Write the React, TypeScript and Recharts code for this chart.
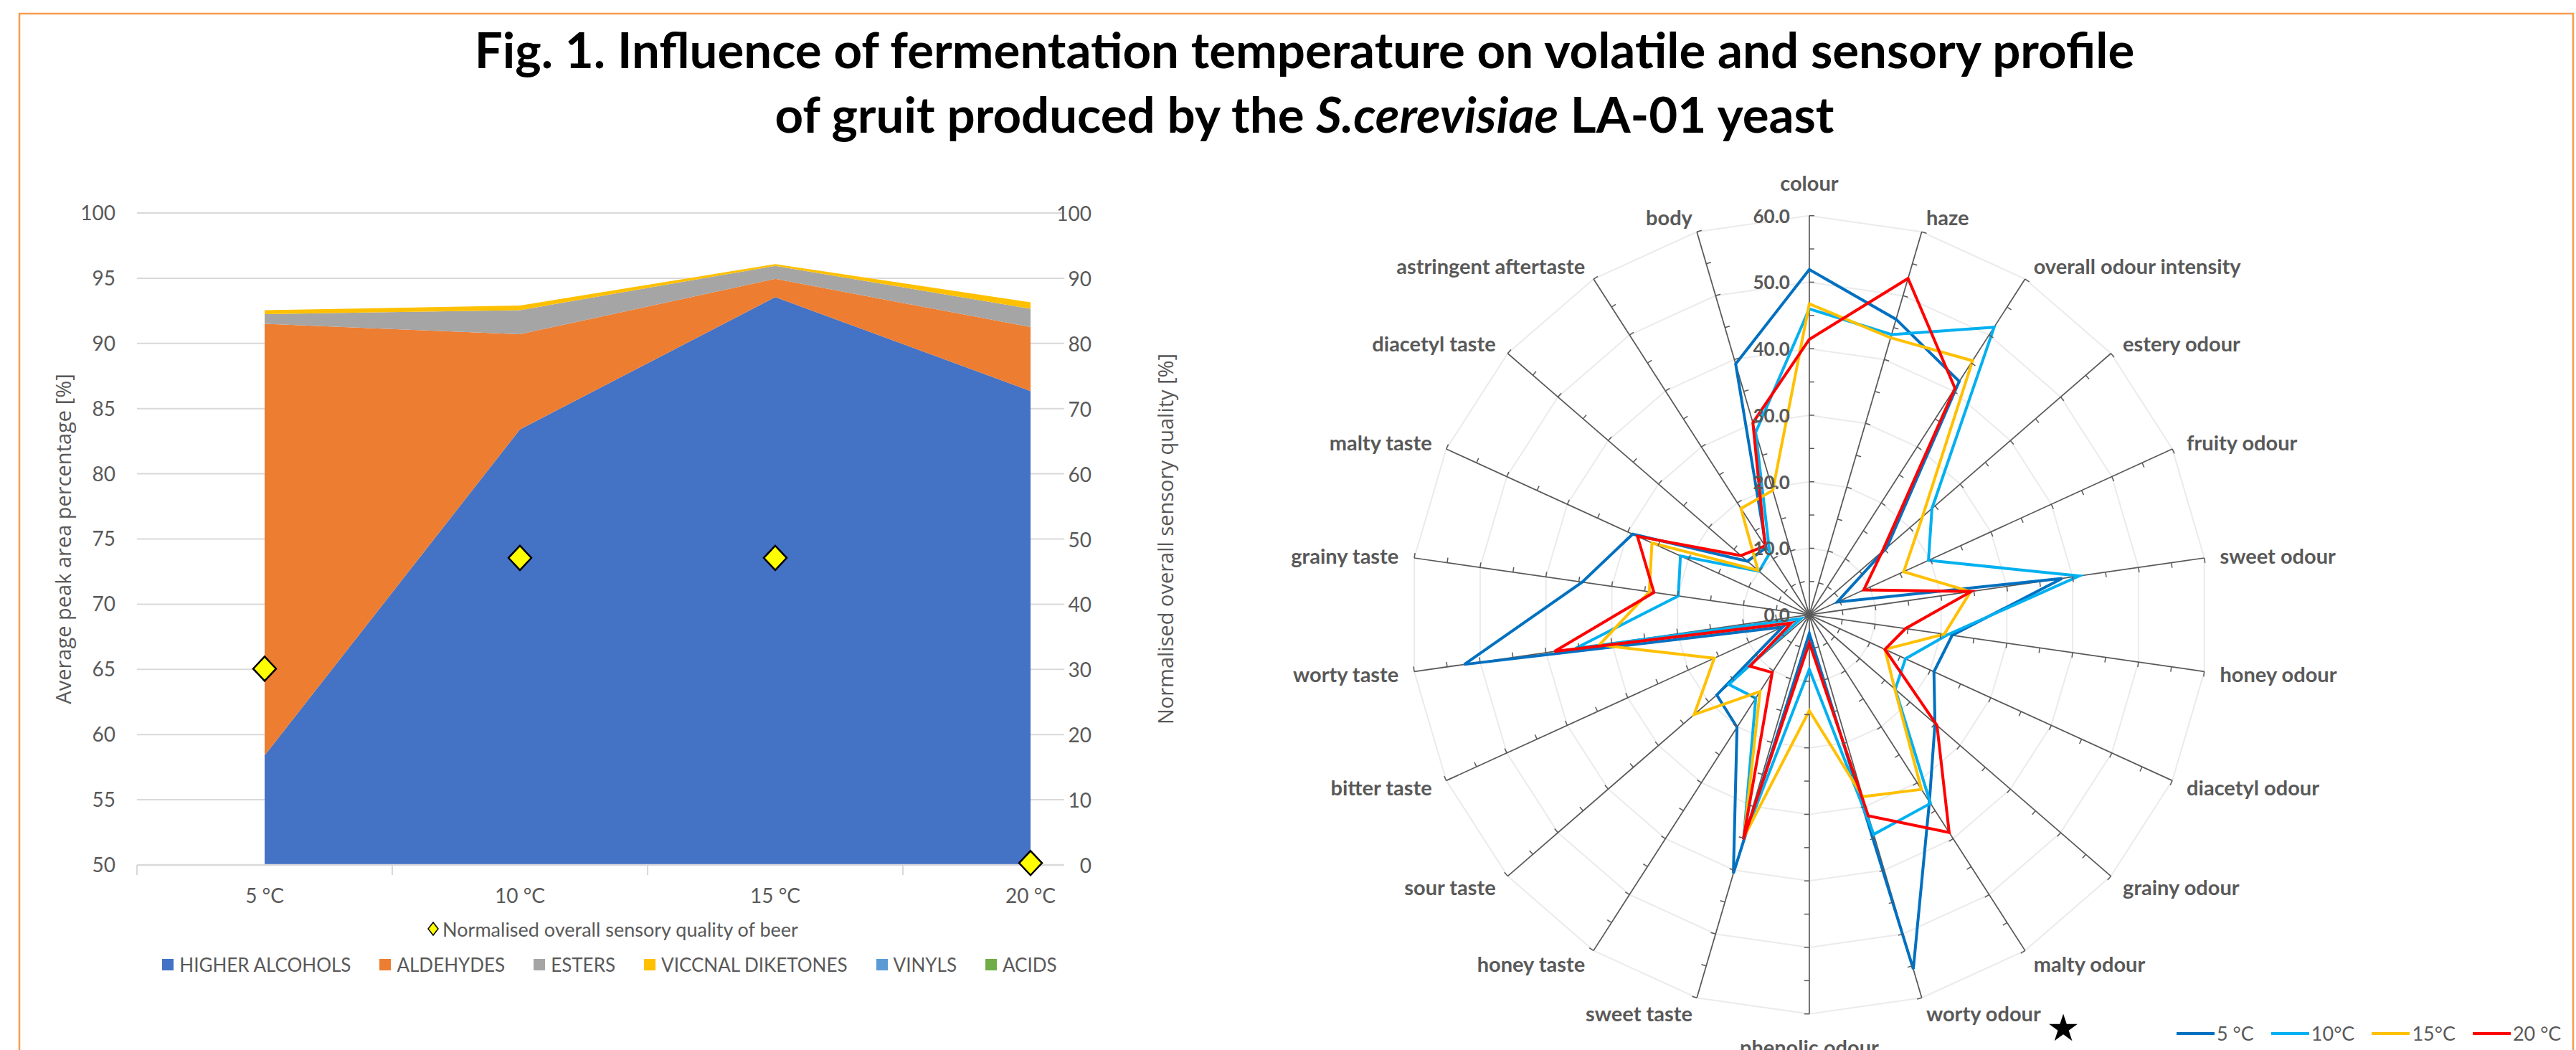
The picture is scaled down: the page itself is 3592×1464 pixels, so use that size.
import React from "react";
import {
  ComposedChart,
  Area,
  Scatter,
  XAxis,
  YAxis,
  CartesianGrid,
  Legend,
  RadarChart,
  Radar,
  PolarGrid,
  PolarAngleAxis,
  PolarRadiusAxis,
} from "recharts";

// ---- volatile profile (left chart) ----
const temperatures = ["5 °C", "10 °C", "15 °C", "20 °C"];
const higherAlcohols = [58.4, 83.4, 93.55, 86.35];
const aldehydes = [33.1, 7.3, 1.4, 4.9];
const esters = [0.75, 1.85, 1.0, 1.4];
const vicinalDiketones = [0.3, 0.35, 0.13, 0.5];
const vinyls = [0, 0, 0, 0];
const acids = [0, 0, 0, 0];
const sensoryQuality = [30.1, 47.1, 47.1, 0.3];
const peakAreaTicks = [50, 55, 60, 65, 70, 75, 80, 85, 90, 95, 100];
const qualityTicks = [0, 10, 20, 30, 40, 50, 60, 70, 80, 90, 100];

const groupNames = ["HIGHER ALCOHOLS", "ALDEHYDES", "ESTERS", "VICCNAL DIKETONES", "VINYLS", "ACIDS"];
const groupColors = ["#4472C4", "#ED7D31", "#A5A5A5", "#FFC000", "#5B9BD5", "#70AD47"];
const groupKeys = ["alcohols", "aldehydes", "esters", "diketones", "vinyls", "acids"];
const qualityName = "Normalised overall sensory quality of beer";

// ---- sensory profile (right chart) ----
const attributes = [
  "colour",
  "haze",
  "overall odour intensity",
  "estery odour",
  "fruity odour",
  "sweet odour",
  "honey odour",
  "diacetyl odour",
  "grainy odour",
  "malty odour",
  "worty odour",
  "phenolic odour",
  "sweet taste",
  "honey taste",
  "sour taste",
  "bitter taste",
  "worty taste",
  "grainy taste",
  "malty taste",
  "diacetyl taste",
  "astringent aftertaste",
  "body",
];
const sensory5 = [51.9, 46.3, 41.7, 15.4, 4.6, 38.4, 21.7, 20.6, 25.0, 33.4, 55.5, 2.8, 40.5, 20.1, 18.4, 4.4, 52.4, 34.5, 29.2, 12.3, 12.0, 39.3];
const sensory10 = [46.0, 43.9, 51.4, 24.4, 19.7, 41.0, 21.0, 15.9, 17.1, 33.7, 34.4, 8.2, 35.0, 14.9, 16.0, 1.4, 35.5, 19.9, 21.3, 10.0, 11.0, 28.6];
const sensory15 = [46.75, 43.4, 45.4, 22.5, 15.6, 24.5, 20.5, 12.5, 17.0, 31.2, 28.5, 14.4, 34.8, 13.7, 22.9, 15.7, 31.9, 24.3, 26.0, 10.2, 19.0, 19.5];
const sensory20 = [41.4, 52.7, 40.5, 14.5, 9.0, 24.6, 14.6, 12.5, 25.4, 38.9, 31.5, 4.2, 35.2, 10.3, 11.8, 3.0, 38.7, 23.6, 28.4, 13.6, 12.3, 30.1];
const sensoryTicks = [0, 10, 20, 30, 40, 50, 60];
const spokeTicks = [5, 10, 15, 20, 25, 30, 35, 40, 45, 50, 55, 60];

const runNames = ["5 °C", "10°C", "15°C", "20 °C"];
const runKeys = ["t5", "t10", "t15", "t20"];
const runColors = ["#0070C0", "#00B0F0", "#FFC000", "#FF0000"];

const CALIBRI = 'Lato, "Liberation Sans", sans-serif';
const GREY = "#595959";

const areaData = temperatures.map((t, i) => ({
  temp: t,
  alcohols: higherAlcohols[i],
  aldehydes: aldehydes[i],
  esters: esters[i],
  diketones: vicinalDiketones[i],
  vinyls: vinyls[i],
  acids: acids[i],
  quality: sensoryQuality[i],
}));

const radarData = attributes.map((a, i) => ({
  attr: a,
  t5: sensory5[i],
  t10: sensory10[i],
  t15: sensory15[i],
  t20: sensory20[i],
}));

// half of the category step, used to put x tick marks between categories
const HALF_STEP = 178;

const Diamond = (props: any) => {
  const { cx, cy } = props;
  if (cx == null || cy == null) return null;
  return (
    <polygon
      points={`${cx},${cy - 17} ${cx + 16},${cy} ${cx},${cy + 17} ${cx - 16},${cy}`}
      fill="#FFFF00"
      stroke="#000"
      strokeWidth={2.5}
    />
  );
};

const TempTick = (props: any) => {
  const { x, y, payload } = props;
  return (
    <g>
      <line x1={x - HALF_STEP} y1={y - 8} x2={x - HALF_STEP} y2={y + 6} stroke="#D9D9D9" strokeWidth={2} />
      <text x={x} y={y + 34} textAnchor="middle" dominantBaseline="central" fill={GREY} fontSize={28} fontFamily={CALIBRI}>
        {payload.value}
      </text>
    </g>
  );
};

const QualityTick = (props: any) => {
  const { x, y, payload } = props;
  return (
    <text x={x + 30} y={y} textAnchor="end" dominantBaseline="central" fill={GREY} fontSize={28} fontFamily={CALIBRI}>
      {payload.value}
    </text>
  );
};

const AxisTitle = (props: any) => {
  const { viewBox, value, dx } = props;
  if (!viewBox) return null;
  const x = viewBox.x + dx;
  const y = viewBox.y + viewBox.height / 2;
  return (
    <text
      x={x}
      y={y}
      transform={`rotate(-90, ${x}, ${y})`}
      textAnchor="middle"
      dominantBaseline="central"
      fill={GREY}
      fontSize={29}
      fontFamily='"Open Sans", sans-serif'
    >
      {value}
    </text>
  );
};

const CompositionLegend = () => (
  <div style={{ width: 1700, fontFamily: CALIBRI, color: GREY, whiteSpace: "nowrap" }}>
    <div style={{ height: 50, display: "flex", alignItems: "center", justifyContent: "center", paddingLeft: 8, fontSize: 27 }}>
      <svg width={18} height={22} style={{ marginRight: 4 }}>
        <polygon points="9,2 16,11 9,20 2,11" fill="#FFFF00" stroke="#000" strokeWidth={1.5} />
      </svg>
      <span>{qualityName}</span>
    </div>
    <div style={{ height: 49, display: "flex", alignItems: "center", justifyContent: "center", gap: 40, fontSize: 26 }}>
      {groupNames.map((n, i) => (
        <div key={n} style={{ display: "flex", alignItems: "center" }}>
          <span style={{ display: "inline-block", width: 16, height: 16, background: groupColors[i], marginRight: 8 }} />
          <span>{n}</span>
        </div>
      ))}
    </div>
  </div>
);

function CompositionChart() {
  return (
    <ComposedChart
      width={1700}
      height={1464}
      data={areaData}
      margin={{ top: 297, right: 116, bottom: 198, left: 91 }}
    >
      <CartesianGrid yAxisId="left" vertical={false} stroke="#D9D9D9" strokeWidth={2} />
      <XAxis
        dataKey="temp"
        padding={{ left: 178, right: 47 }}
        height={60}
        interval={0}
        tickLine={false}
        axisLine={{ stroke: "#D9D9D9", strokeWidth: 2.5 }}
        tick={<TempTick />}
      />
      <YAxis
        yAxisId="left"
        domain={[50, 100]}
        ticks={peakAreaTicks}
        allowDataOverflow
        width={100}
        axisLine={false}
        tickLine={false}
        tickMargin={24}
        tick={{ fill: GREY, fontSize: 28, fontFamily: CALIBRI }}
        label={<AxisTitle value="Average peak area percentage [%]" dx={-4} />}
      />
      <YAxis
        yAxisId="right"
        orientation="right"
        domain={[0, 100]}
        ticks={qualityTicks}
        width={100}
        axisLine={false}
        tickLine={false}
        tick={<QualityTick />}
        label={<AxisTitle value="Normalised overall sensory quality [%]" dx={140} />}
      />
      {groupKeys.map((k, i) => (
        <Area
          key={k}
          yAxisId="left"
          type="linear"
          dataKey={k}
          name={groupNames[i]}
          stackId="volatiles"
          fill={groupColors[i]}
          fillOpacity={1}
          stroke="none"
          isAnimationActive={false}
        />
      ))}
      <Scatter
        yAxisId="right"
        dataKey="quality"
        name={qualityName}
        shape={<Diamond />}
        isAnimationActive={false}
      />
      <Legend
        verticalAlign="middle"
        align="center"
        layout="horizontal"
        wrapperStyle={{ left: 0, top: 1270, width: 1700 }}
        content={() => <CompositionLegend />}
      />
    </ComposedChart>
  );
}

// ---- radar helpers ----
const RADAR_CX = 822.9;
const RADAR_CY = 857.2;
const RADAR_R = 556.5;
const RADAR_MAX = 60;

const AttributeTick = (props: any) => {
  const { payload } = props;
  const cx = typeof props.cx === "number" ? props.cx : RADAR_CX;
  const cy = typeof props.cy === "number" ? props.cy : RADAR_CY;
  const a = (payload.coordinate * Math.PI) / 180;
  const ca = Math.cos(a);
  const sa = Math.sin(a);
  const at = (r: number) => [cx + r * ca, cy - r * sa];
  const vertical = Math.abs(ca) < 0.01;
  const [lx, ly] = at(RADAR_R + (vertical ? 46 : 22));
  const anchor = vertical ? "middle" : ca > 0 ? "start" : "end";
  return (
    <g>
      {spokeTicks.map((v) => {
        const [px, py] = at((v / RADAR_MAX) * RADAR_R);
        return <line key={v} x1={px} y1={py} x2={px + 7 * sa} y2={py + 7 * ca} stroke={GREY} strokeWidth={1.5} />;
      })}
      <text x={lx} y={ly} textAnchor={anchor} dominantBaseline="central" fill={GREY} fontSize={29} fontWeight={700} fontFamily={CALIBRI}>
        {payload.value}
      </text>
    </g>
  );
};

const ScoreTick = (props: any) => {
  const { x, y, payload } = props;
  return (
    <text x={x - 27} y={y} textAnchor="end" dominantBaseline="central" fill={GREY} fontSize={26} fontWeight={700} fontFamily={CALIBRI}>
      {Number(payload.value).toFixed(1)}
    </text>
  );
};

const RunLegend = () => (
  <div style={{ display: "flex", alignItems: "center", gap: 24, fontFamily: CALIBRI, color: GREY, fontSize: 27, whiteSpace: "nowrap" }}>
    {runNames.map((n, i) => (
      <div key={n} style={{ display: "flex", alignItems: "center", flexShrink: 0 }}>
        <span style={{ display: "inline-block", width: 53, height: 4, background: runColors[i], marginRight: 3, flexShrink: 0 }} />
        <span>{n}</span>
      </div>
    ))}
  </div>
);

function SensoryRadar() {
  return (
    <RadarChart
      width={1892}
      height={1464}
      data={radarData}
      cx={RADAR_CX}
      cy={RADAR_CY}
      outerRadius={RADAR_R}
      margin={{ top: 0, right: 0, bottom: 0, left: 0 }}
    >
      <PolarGrid gridType="polygon" radialLines={false} stroke="#EBEBEB" strokeWidth={2} />
      <PolarGrid gridType="polygon" radialLines polarRadius={[]} stroke={GREY} strokeWidth={1.75} />
      <PolarAngleAxis dataKey="attr" tick={<AttributeTick />} tickLine={false} axisLine={false} />
      <PolarRadiusAxis
        angle={90}
        domain={[0, RADAR_MAX]}
        ticks={sensoryTicks as any}
        tickCount={7}
        axisLine={false}
        tick={<ScoreTick />}
      />
      {runKeys.map((k, i) => (
        <Radar
          key={k}
          dataKey={k}
          name={runNames[i]}
          stroke={runColors[i]}
          strokeWidth={4}
          fill="none"
          fillOpacity={0}
          dot={false}
          isAnimationActive={false}
        />
      ))}
      <Legend
        verticalAlign="middle"
        align="center"
        layout="horizontal"
        wrapperStyle={{ left: 1335, top: 1424, width: 550 }}
        content={() => <RunLegend />}
      />
    </RadarChart>
  );
}

export default function App() {
  return (
    <div style={{ position: "absolute", left: 0, top: 0, width: 3592, height: 1464, background: "#fff", overflow: "hidden" }}>
      <svg width={3592} height={1464} style={{ position: "absolute", left: 0, top: 0 }}>
        <rect x={27} y={19} width={3561} height={1500} fill="none" stroke="#F79B4F" strokeWidth={2.5} />
        <text x={1819} y={95} textAnchor="middle" fontSize={69} fontWeight={700} fontFamily={CALIBRI} fill="#000">
          Fig. 1. Influence of fermentation temperature on volatile and sensory profile
        </text>
        <text x={1819} y={185} textAnchor="middle" fontSize={69} fontWeight={700} fontFamily={CALIBRI} fill="#000">
          of gruit produced by the <tspan fontStyle="italic">S.cerevisiae</tspan> LA-01 yeast
        </text>
        <text x={2877} y={1433} textAnchor="middle" dominantBaseline="central" fontSize={52} fontFamily='"DejaVu Sans", sans-serif' fill="#000">
          ★
        </text>
      </svg>
      <div style={{ position: "absolute", left: 0, top: 0 }}>
        <CompositionChart />
      </div>
      <div style={{ position: "absolute", left: 1700, top: 0 }}>
        <SensoryRadar />
      </div>
    </div>
  );
}
